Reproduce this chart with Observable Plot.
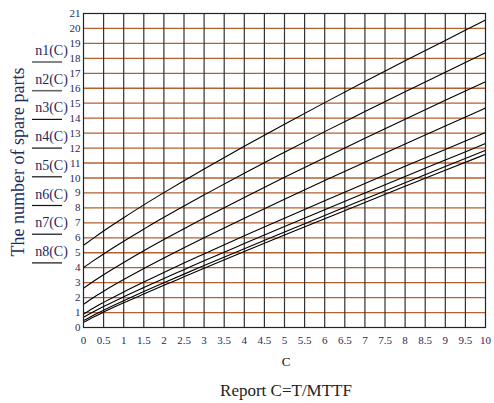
<!DOCTYPE html>
<html><head><meta charset="utf-8">
<script src="https://cdn.jsdelivr.net/npm/d3@7"></script>
<script src="https://cdn.jsdelivr.net/npm/@observablehq/plot@0.6"></script>
<style>body{margin:0;background:#fff}</style>
</head><body><div id="chart"></div>
<script>
// C = T/MTTF sample points
const C  = [0, 0.25, 0.5, 1, 1.5, 2, 2.5, 3, 4, 5, 6, 7, 8, 9, 10];
const n1 = [5.50, 5.98, 6.45, 7.34, 8.20, 9.02, 9.82, 10.60, 12.12, 13.60, 15.04, 16.45, 17.84, 19.20, 20.56];
const n2 = [4.00, 4.47, 4.92, 5.77, 6.58, 7.37, 8.13, 8.87, 10.32, 11.72, 13.10, 14.44, 15.77, 17.07, 18.37];
const n3 = [2.62, 3.09, 3.53, 4.35, 5.13, 5.88, 6.61, 7.32, 8.70, 10.05, 11.36, 12.65, 13.93, 15.19, 16.43];
const n4 = [1.55, 2.01, 2.43, 3.21, 3.94, 4.65, 5.34, 6.01, 7.31, 8.58, 9.83, 11.06, 12.28, 13.48, 14.68];
const n5 = [0.90, 1.31, 1.68, 2.38, 3.04, 3.68, 4.31, 4.92, 6.13, 7.31, 8.48, 9.63, 10.78, 11.91, 13.04];
const n6 = [0.68, 1.05, 1.40, 2.05, 2.67, 3.28, 3.87, 4.46, 5.61, 6.75, 7.88, 8.99, 10.10, 11.20, 12.30];
const n7 = [0.46, 0.82, 1.16, 1.79, 2.40, 2.99, 3.57, 4.14, 5.27, 6.39, 7.49, 8.59, 9.68, 10.77, 11.85];
const n8 = [0.34, 0.70, 1.03, 1.65, 2.24, 2.82, 3.39, 3.96, 5.08, 6.18, 7.27, 8.36, 9.44, 10.51, 11.58];
const seriesNames = ["n1(C)", "n2(C)", "n3(C)", "n4(C)", "n5(C)", "n6(C)", "n7(C)", "n8(C)"];
const xTicks = [0, 0.5, 1, 1.5, 2, 2.5, 3, 3.5, 4, 4.5, 5, 5.5, 6, 6.5, 7, 7.5, 8, 8.5, 9, 9.5, 10];
const yTicks = [0,1,2,3,4,5,6,7,8,9,10,11,12,13,14,15,16,17,18,19,20,21];
const yTitle = "The number of spare parts";
const xTitle = "C";
const captionText = "Report C=T/MTTF";

const series = [n1, n2, n3, n4, n5, n6, n7, n8];
const rows = series.flatMap((s, i) => s.map((v, j) => ({c: C[j], n: v, name: seriesNames[i]})));

const navy = "#1f2a5c";
const W = 494, H = 403;
const mL = 83, mR = 9, mT = 13, mB = 76;

const svg = Plot.plot({
  width: W, height: H,
  marginLeft: mL, marginRight: mR, marginTop: mT, marginBottom: mB,
  style: {fontFamily: "'Liberation Serif', 'Times New Roman', serif", fontSize: "11px", color: navy, background: "#fff"},
  x: {domain: [0, 10]},
  y: {domain: [0, 21]},
  marks: [
    Plot.ruleY(yTicks.filter(v => v > 0 && v < 21), {stroke: "#b5612f", strokeWidth: 1.3}),
    Plot.ruleX(xTicks.filter(v => v > 0 && v < 10), {stroke: "#333", strokeWidth: 1.2}),
    Plot.line(rows, {x: "c", y: "n", z: "name", stroke: "#000", strokeWidth: 1.1, curve: "monotone-x"}),
    Plot.frame({stroke: "#222", strokeWidth: 1.2}),
    Plot.axisX({ticks: xTicks, tickSize: 0, tickPadding: 9, label: null, tickFormat: d => String(d)}),
    Plot.axisY({ticks: yTicks, tickSize: 0, tickPadding: 3, label: null, tickFormat: d => String(d)})
  ]
});

const s = d3.select(svg);
const serif = "'Liberation Serif', 'Times New Roman', serif";
const plotCx = mL + (W - mL - mR) / 2;

s.append("text")
  .attr("transform", `translate(24,${162}) rotate(-90)`)
  .attr("text-anchor", "middle")
  .attr("font-family", serif).attr("font-size", 18).attr("fill", navy)
  .text(yTitle);

s.append("text")
  .attr("x", plotCx + 2).attr("y", 366)
  .attr("text-anchor", "middle")
  .attr("font-family", serif).attr("font-size", 13).attr("fill", "#111")
  .text(xTitle);

s.append("text")
  .attr("x", plotCx + 2).attr("y", 396)
  .attr("text-anchor", "middle")
  .attr("font-family", serif).attr("font-size", 17).attr("fill", "#222")
  .text(captionText);

const leg = s.append("g");
seriesNames.forEach((name, i) => {
  const y0 = 55 + i * 28.7;
  leg.append("text")
    .attr("x", 51.5).attr("y", y0)
    .attr("text-anchor", "middle")
    .attr("font-family", serif).attr("font-size", 14).attr("fill", navy)
    .text(name);
  leg.append("line")
    .attr("x1", 32).attr("x2", 62)
    .attr("y1", y0 + 7).attr("y2", y0 + 7)
    .attr("stroke", i < 2 ? "#666" : "#111").attr("stroke-width", i < 2 ? 1.6 : 1.2);
});

document.getElementById("chart").appendChild(svg);
</script>
</body></html>
